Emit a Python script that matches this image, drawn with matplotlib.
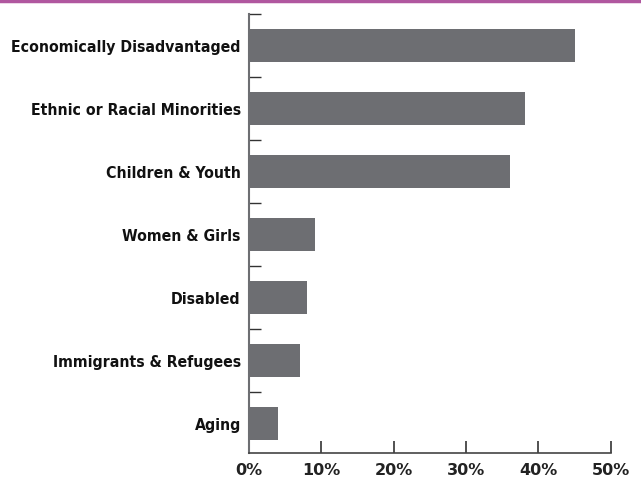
import numpy as np
import matplotlib.pyplot as plt
from matplotlib.ticker import FixedLocator, PercentFormatter

# data
categories = ['Economically Disadvantaged', 'Ethnic or Racial Minorities',
              'Children & Youth', 'Women & Girls', 'Disabled',
              'Immigrants & Refugees', 'Aging']
values = [45.1, 38.2, 36.1, 9.1, 8.0, 7.0, 4.0]
xticks = [0, 10, 20, 30, 40, 50]

bar_color = '#6d6e72'
line_color = '#6d6e72'

fig = plt.figure(figsize=(6.41, 4.83), dpi=100)
ax = fig.add_axes([0.3885, 0.0615, 0.5642, 0.9095])

y = np.arange(len(categories))
ax.barh(y, values, height=0.52, color=bar_color)

ax.set_xlim(0, 50)
ax.set_ylim(6.47, -0.5)

ax.set_yticks(y)
ax.set_yticklabels(categories, fontsize=11.3, fontweight='bold',
                   family='DejaVu Sans', fontstretch='condensed',
                   color='#111111')
ax.yaxis.set_minor_locator(FixedLocator(np.arange(-0.5, 6, 1)))
ax.tick_params(axis='y', which='major', length=0, pad=6)
ax.tick_params(axis='y', which='minor', direction='in', length=8.6,
               width=1, color='#333333')

ax.set_xticks(xticks)
ax.xaxis.set_major_formatter(PercentFormatter(decimals=0))
ax.tick_params(axis='x', direction='in', length=8.6, width=1.2,
               color='#333333', pad=7)
for lab in ax.get_xticklabels():
    lab.set_fontsize(11.5)
    lab.set_fontweight('bold')
    lab.set_family('DejaVu Sans')
    lab.set_color('#222222')

for s in ['top', 'right']:
    ax.spines[s].set_visible(False)
ax.spines['left'].set_color(line_color)
ax.spines['left'].set_linewidth(1.5)
ax.spines['bottom'].set_color('#444444')
ax.spines['bottom'].set_linewidth(1.2)

# magenta rule at the top
fig.add_artist(plt.Line2D([0, 1], [0.997, 0.997], color='#b0579f', lw=2.5))

fig.savefig('out.png', dpi=100)
